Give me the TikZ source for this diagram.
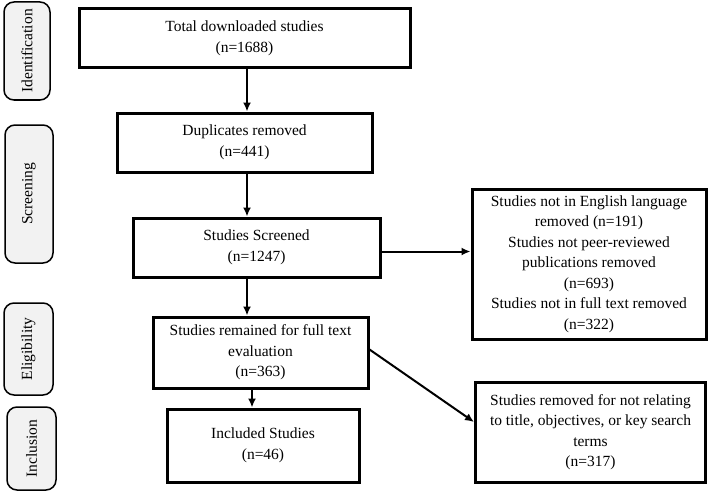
\documentclass[tikz,border=0pt]{standalone}
\usepackage{fontspec}
\setmainfont{Liberation Serif}
\usetikzlibrary{positioning, arrows.meta}
\tikzset{>={Latex[length=9pt,width=8pt]}}

\begin{document}
\begin{tikzpicture}[x=1pt,y=-1pt,
  every node/.style={font=\fontsize{15.5}{20.5}\selectfont,align=center,inner sep=2pt},
  box/.style={draw,line width=3pt},
  phase/.style={draw,line width=1.5pt,rounded corners=10pt,fill=gray!10,rotate=90},
  flow/.style={->,line width=2pt}]
\useasboundingbox (0,0) rectangle (708,492);
% phases
\node[phase,minimum width=98,minimum height=46] (ident) at (27,51) {Identification};
\node[phase,minimum width=138,minimum height=48] (screen) at (29,194) {Screening};
\node[phase,minimum width=92,minimum height=49] (elig) at (28.5,349) {Eligibility};
\node[phase,minimum width=83,minimum height=49] (incl) at (31.5,448.5) {Inclusion};
% main column
\node[box,minimum width=331,minimum height=59] (total) at (244.5,38.5) {Total downloaded studies\\(n=1688)};
\node[box,minimum width=255,minimum height=59] (dup) at (244.5,142.5) {Duplicates removed\\(n=441)};
\node[box,minimum width=247,minimum height=59] (scr) at (256.5,247.5) {Studies Screened\\(n=1247)};
\node[box,minimum width=215,minimum height=71] (rem) at (260.5,352.5) {Studies remained for full text\\evaluation\\(n=363)};
\node[box,minimum width=192,minimum height=73] (inc) at (263,445.5) {Included Studies\\(n=46)};
% excluded
\node[box,minimum width=234,minimum height=150] (excla) at (589,264) {Studies not in English language\\removed (n=191)\\Studies not peer-reviewed\\publications removed\\(n=693)\\Studies not in full text removed\\(n=322)};
\node[box,minimum width=230,minimum height=100] (exclb) at (590.5,432) {Studies removed for not relating\\to title, objectives, or key search\\terms\\(n=317)};
% arrows
\draw[flow] ([xshift=2.5pt]total.south) -- ([xshift=2.5pt]total.south |- dup.north);
\draw[flow] ([xshift=2.5pt]dup.south) -- ([xshift=2.5pt]dup.south |- scr.north);
\draw[flow] ([xshift=2.5pt]dup.south |- scr.south) -- ([xshift=2.5pt]dup.south |- rem.north);
\draw[flow] ([xshift=-8.5pt]rem.south) -- ([xshift=-8.5pt]rem.south |- inc.north);
\draw[flow] ([yshift=-4pt]scr.east) -- ([yshift=-4pt]scr.east -| excla.west);
\draw[flow] ([yshift=3pt]rem.east) -- ([yshift=10pt]exclb.west);
\end{tikzpicture}
\end{document}
